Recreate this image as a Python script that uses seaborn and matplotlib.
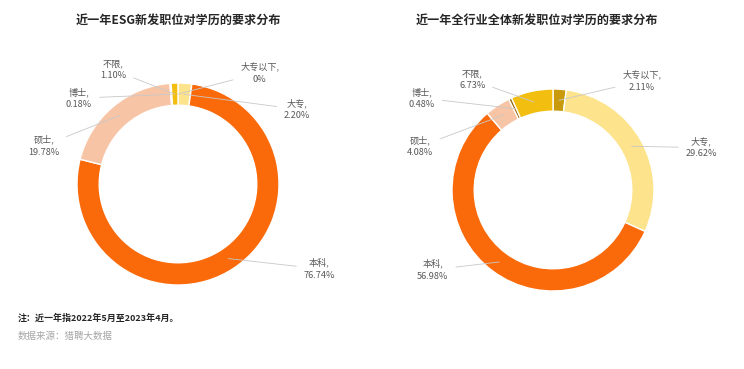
import numpy as np
import matplotlib
matplotlib.use("Agg")
import matplotlib.pyplot as plt
import seaborn as sns

# data
categories = ["大专以下", "大专", "本科", "硕士", "博士", "不限"]
esg_share = [0.00, 2.20, 76.74, 19.78, 0.18, 1.10]
all_share = [2.11, 29.62, 56.98, 4.08, 0.48, 6.73]
titles = ["近一年ESG新发职位对学历的要求分布", "近一年全行业全体新发职位对学历的要求分布"]
note = "注：近一年指2022年5月至2023年4月。"
source = "数据来源：猎聘大数据"

colors = ["#C99A0B", "#FDE38C", "#FA6A0A", "#F8C4A6", "#9C6B14", "#F2BE10"]

# layout (pixels of a 744x369 canvas, radius of the ring in px)
W, H, R = 744, 369, 101
centers = [(178, 184), (553, 190)]
title_x = [178, 537]
# label anchor positions in ring-radius units, same order as categories
label_pos = [
    [(0.81, 1.10), (1.18, 0.74), (1.40, -0.84), (-1.33, 0.38), (-0.98, 0.85), (-0.64, 1.13)],
    [(0.88, 1.08), (1.47, 0.42), (-1.19, -0.79), (-1.32, 0.43), (-1.30, 0.91), (-0.80, 1.09)],
]

sns.set_theme(style="white")
plt.rcParams["font.family"] = ["Noto Sans CJK SC", "DejaVu Sans"]
pal = sns.color_palette(colors)

fig = plt.figure(figsize=(W / 100, H / 100), dpi=100)

for i, shares in enumerate([esg_share, all_share]):
    x0 = i * W / 2
    ax = fig.add_axes([i * 0.5, 0, 0.5, 1])
    cx, cy = centers[i]
    ax.pie(shares, colors=pal, startangle=90, counterclock=False, radius=1,
           wedgeprops=dict(width=0.22, edgecolor="white", linewidth=1))
    ax.set_xlim((x0 - cx) / R, (x0 + W / 2 - cx) / R)
    ax.set_ylim((cy - H) / R, cy / R)
    ax.set_aspect("auto")
    ax.axis("off")

    cum = np.cumsum([0] + shares[:-1])
    for j, (name, v) in enumerate(zip(categories, shares)):
        theta = np.deg2rad(90 - 360 * (cum[j] + v / 2) / 100)
        r = 0.89
        txt = f"{name},\n{v:.2f}%" if v else f"{name},\n0%"
        ax.annotate(txt, xy=(r * np.cos(theta), r * np.sin(theta)),
                    xytext=label_pos[i][j], ha="center", va="center",
                    fontsize=6.6, color="#595959", linespacing=1.45,
                    arrowprops=dict(arrowstyle="-", color="#c8c8c8", lw=0.6,
                                    shrinkA=3, shrinkB=0))

    fig.text(title_x[i] / W, 1 - 20 / H, titles[i], ha="center", va="center",
             fontsize=8.7, fontweight="bold", color="#262626")

fig.text(18 / W, 1 - 318 / H, note, ha="left", va="center", fontsize=6.5,
         color="#262626", fontweight="bold")
fig.text(18 / W, 1 - 336 / H, source, ha="left", va="center", fontsize=6.8,
         color="#a6a6a6")

fig.savefig("out.png", dpi=100)
